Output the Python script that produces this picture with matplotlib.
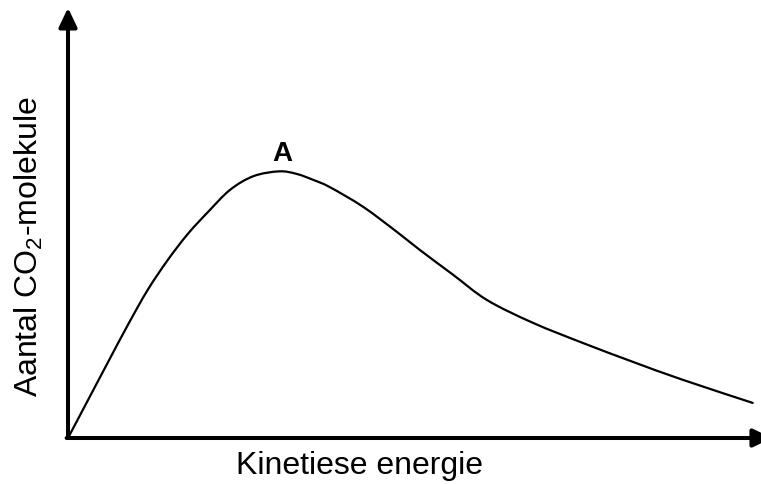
import matplotlib
matplotlib.use("Agg")
import matplotlib.pyplot as plt
import numpy as np
from matplotlib.path import Path
from matplotlib.patches import PathPatch

plt.rcParams['font.family'] = ['Liberation Sans', 'DejaVu Sans']
plt.rcParams['mathtext.fontset'] = 'custom'
plt.rcParams['mathtext.rm'] = 'Liberation Sans'
plt.rcParams['mathtext.it'] = 'Liberation Sans:italic'
plt.rcParams['mathtext.bf'] = 'Liberation Sans:bold'

# Curve values (arbitrary units, 0-10 on both axes)
energy = [0.0, 0.29, 0.58, 0.87, 1.15, 1.44, 1.73, 2.02, 2.34, 2.68,
          3.05, 3.30, 3.54, 3.78, 4.26, 4.75, 5.08, 5.56, 6.05, 6.71, 7.43,
          8.15, 8.87, 9.88]
molecules = [0.0, 0.89, 1.78, 2.66, 3.46, 4.16, 4.77, 5.28, 5.80, 6.12,
             6.23, 6.17, 6.03, 5.86, 5.40, 4.81, 4.39, 3.81, 3.22, 2.69, 2.22,
             1.78, 1.36, 0.82]
peak_label = "A"
x_label = "Kinetiese energie"
y_label = "Aantal CO$_2$-molekule"

W, H = 761, 484
fig = plt.figure(figsize=(W / 100, H / 100), dpi=100)
ax = fig.add_axes([68 / W, 46 / H, (761 - 68) / W, (438 - 10) / H])
ax.set_xlim(0, 10)
ax.set_ylim(0, 10)
ax.axis('off')

# Smooth curve through the read points (Catmull-Rom -> cubic Bezier path)
pts = np.column_stack([energy, molecules])
verts = [tuple(pts[0])]
codes = [Path.MOVETO]
n = len(pts)
for i in range(n - 1):
    p0 = pts[i - 1] if i > 0 else pts[i]
    p1 = pts[i]
    p2 = pts[i + 1]
    p3 = pts[i + 2] if i + 2 < n else pts[i + 1]
    c1 = p1 + (p2 - p0) / 6.0
    c2 = p2 - (p3 - p1) / 6.0
    verts += [tuple(c1), tuple(c2), tuple(p2)]
    codes += [Path.CURVE4] * 3
curve = PathPatch(Path(verts, codes), facecolor='none', edgecolor='black',
                  lw=1.6, capstyle='round', joinstyle='round', clip_on=False)
ax.add_patch(curve)

# Axes with arrows
arrow_kw = dict(arrowstyle='-|>,head_length=1.15,head_width=0.55',
                lw=2.9, color='black', shrinkA=0, shrinkB=0,
                mutation_scale=10)
ax.annotate('', xy=(0, 1.005), xytext=(0, 0), xycoords='axes fraction',
            textcoords='axes fraction', arrowprops=arrow_kw, annotation_clip=False)
ax.annotate('', xy=(1.016, 0), xytext=(-0.002, 0), xycoords='axes fraction',
            textcoords='axes fraction', arrowprops=arrow_kw, annotation_clip=False)

# Peak label
i_peak = int(np.argmax(molecules))
ax.annotate(peak_label, xy=(energy[i_peak], molecules[i_peak]), xytext=(2, 3),
            textcoords='offset points', ha='center', va='bottom',
            fontsize=20, fontweight='bold')

fig.text(360 / W, 1 - 466 / H, x_label, ha='center', va='center', fontsize=23)
fig.text(29 / W, 1 - 247 / H, y_label, ha='center', va='center', fontsize=23,
         rotation=90)

fig.savefig('out.png', dpi=100)
